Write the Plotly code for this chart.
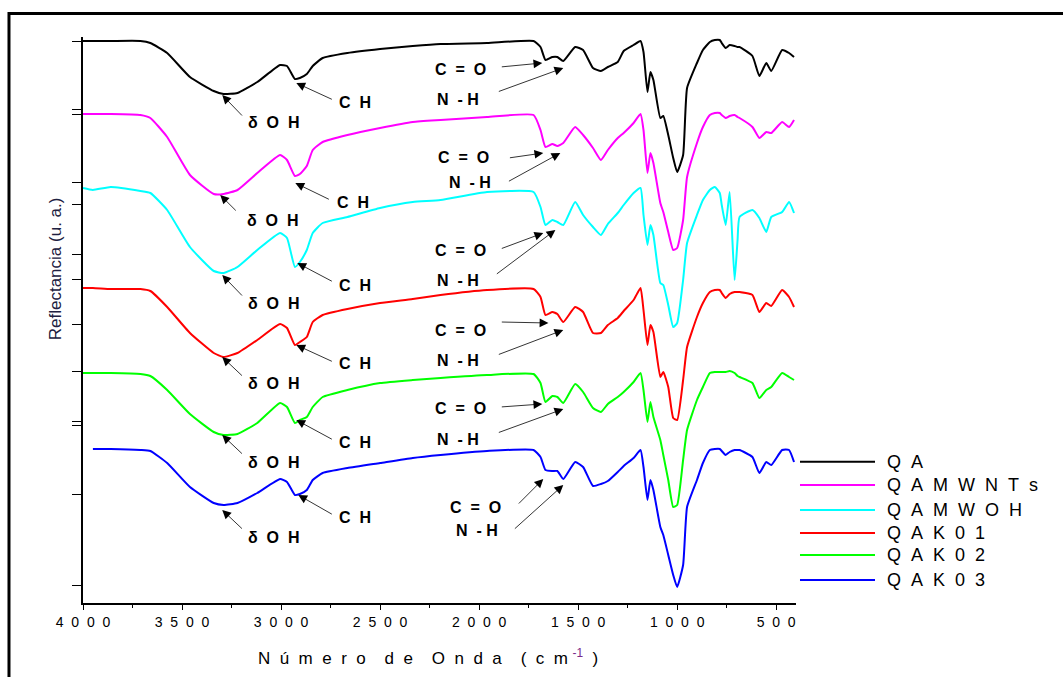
import plotly.graph_objects as go

# FTIR reflectance spectra, stacked with vertical offsets (arbitrary units)
WAVENUMBER = [4000, 3950, 3860, 3710, 3660, 3575, 3460, 3340, 3290, 3220, 3120, 3005, 2970, 2930,
              2905, 2870, 2840, 2790, 2665, 2500, 2335, 2195, 1960, 1725, 1690, 1665, 1630, 1605,
              1575, 1515, 1475, 1425, 1385, 1350, 1300, 1270, 1220, 1185, 1170, 1150, 1135, 1120,
              1085, 1070, 1045, 1020, 1000, 970, 950, 900, 870, 835, 810, 785, 775, 755, 735, 710,
              695, 685, 620, 585, 550, 525, 470, 435, 410]

QA = [562, 562, 562, 562, 560, 550, 526, 512, 509, 510, 521, 538, 537, 524, 525, 529, 537, 545,
      550, 554, 557, 559, 560, 562, 556, 543, 546, 546, 542, 556, 553, 535, 532, 536, 541, 552,
      558, 562, 551, 511, 531, 523, 485, 487, 468, 445, 431, 448, 515, 540, 553, 561, 563, 563,
      560, 555, 558, 557, 556, 556, 547, 527, 540, 532, 553, 550, 546]

QAMWNTS = [489, 489, 489, 488, 485, 466, 428, 409, 409, 413, 430, 448, 443, 427, 429, 437, 453,
           461, 468, 475, 481, 483, 486, 488, 473, 456, 459, 457, 460, 476, 468, 455, 443, 453,
           465, 470, 480, 489, 473, 430, 450, 440, 400, 391, 371, 353, 355, 383, 426, 460, 476,
           488, 490, 490, 488, 485, 487, 488, 486, 485, 476, 465, 471, 470, 481, 476, 483]

QAMWOH = [415, 413, 416, 412, 410, 393, 356, 332, 330, 336, 353, 370, 365, 336, 341, 353, 370,
          380, 386, 395, 401, 403, 411, 411, 396, 378, 383, 381, 378, 401, 388, 376, 368, 379,
          390, 398, 410, 415, 388, 358, 378, 368, 320, 318, 298, 276, 280, 323, 360, 388, 403,
          413, 416, 410, 398, 378, 411, 323, 363, 386, 393, 385, 371, 386, 391, 401, 390]

QAK01 = [315, 315, 314, 314, 312, 296, 270, 250, 246, 250, 263, 279, 275, 258, 261, 266, 281,
         288, 294, 300, 304, 308, 313, 314, 306, 288, 291, 289, 281, 296, 291, 270, 270, 278,
         285, 292, 303, 315, 293, 258, 278, 271, 226, 231, 216, 185, 183, 223, 256, 286, 300,
         311, 313, 313, 310, 305, 309, 311, 311, 311, 308, 291, 300, 297, 313, 306, 296]

QAK02 = [230, 230, 230, 229, 227, 213, 189, 171, 168, 169, 180, 200, 196, 180, 183, 186, 196,
         206, 213, 220, 223, 225, 228, 229, 220, 201, 207, 206, 200, 219, 211, 195, 191, 199,
         206, 211, 221, 230, 213, 181, 201, 186, 163, 148, 123, 96, 98, 143, 173, 203, 216,
         230, 231, 231, 231, 231, 232, 230, 227, 226, 220, 205, 213, 216, 230, 226, 223]

QAK03 = [None, 154, 154, 153, 152, 140, 116, 100, 98, 100, 110, 124, 121, 108, 109, 113, 123,
         130, 135, 140, 145, 148, 152, 153, 146, 133, 132, 132, 124, 141, 136, 117, 119, 122,
         131, 137, 145, 153, 136, 103, 123, 113, 76, 68, 48, 28, 16, 38, 96, 123, 140, 153,
         154, 154, 152, 148, 151, 153, 153, 153, 146, 130, 141, 138, 153, 153, 141]

SERIES_NAMES = ["Q A", "Q A M W N T s", "Q A M W O H", "Q A K 0 1", "Q A K 0 2", "Q A K 0 3"]
SERIES_COLORS = ["#000000", "#ff00ff", "#00ffff", "#ff0000", "#00ff00", "#0000ff"]
SERIES_VALUES = [QA, QAMWNTS, QAMWOH, QAK01, QAK02, QAK03]

X_TICKS = [4000, 3500, 3000, 2500, 2000, 1500, 1000, 500]
X_MINOR = [3750, 3250, 2750, 2250, 1750, 1250, 750]
Y_TICKS = [562, 494, 489, 421, 399, 349, 324, 279, 232, 182, 178, 109, 18]

# band assignments: (text position, arrow tail, arrow tip) per spectrum
OH_TEXT = [(3040, 481), (3044, 383), (3040, 300), (3039, 220), (3039, 141), (3039, 66)]
OH_TAIL = [(3190, 486), (3221, 391), (3190, 306), (3190, 226), (3190, 148), (3190, 73)]
OH_TIP = [(3297, 508), (3307, 408), (3297, 328), (3297, 246), (3297, 168), (3297, 93)]

CH_TEXT = [(2625, 501), (2635, 401), (2625, 318), (2625, 240), (2625, 161), (2625, 86)]
CH_TAIL = [(2736, 503), (2751, 403), (2736, 321), (2736, 241), (2736, 163), (2736, 88)]
CH_TIP = [(2923, 520), (2928, 420), (2918, 340), (2923, 258), (2923, 183), (2913, 108)]

CO_TEXT = [(2094, 534), (2080, 446), (2094, 353), (2094, 273), (2094, 195), (2019, 96)]
CO_TAIL = [(1893, 536), (1852, 445), (1893, 354), (1893, 281), (1893, 196), (1807, 98)]
CO_TIP = [(1681, 540), (1676, 450), (1676, 370), (1650, 280), (1681, 199), (1676, 124)]

NH_TEXT = [(2105, 504), (2044, 421), (2105, 323), (2105, 243), (2105, 164), (2009, 73)]
NH_TAIL = [(1908, 511), (1857, 421), (1918, 328), (1908, 248), (1908, 170), (1827, 73)]
NH_TIP = [(1575, 535), (1590, 450), (1615, 373), (1575, 273), (1575, 194), (1575, 118)]

NB = "\u00a0"
BAND_TEXT = {
    "OH": "δ" + NB * 2 + "O" + NB * 2 + "H",
    "CH": "C" + NB * 2 + "H",
    "CO": "C" + NB * 2 + "=" + NB * 2 + "O",
    "NH": "N" + NB * 2 + "-" + NB + "H",
}
BANDS = [("OH", OH_TEXT, OH_TAIL, OH_TIP), ("CH", CH_TEXT, CH_TAIL, CH_TIP),
         ("CO", CO_TEXT, CO_TAIL, CO_TIP), ("NH", NH_TEXT, NH_TAIL, NH_TIP)]

FONT = "Liberation Sans, Arial, sans-serif"


def spaced(s, gap=2):
    return (NB * gap).join(s.replace(" ", ""))


fig = go.Figure()
for name, color, vals in zip(SERIES_NAMES, SERIES_COLORS, SERIES_VALUES):
    fig.add_trace(go.Scatter(x=WAVENUMBER, y=vals, mode="lines", name=name,
                             line=dict(color=color, width=2, shape="spline", smoothing=0.45),
                             showlegend=False, connectgaps=False))

annotations = []
for key, texts, tails, tips in BANDS:
    for (tx, ty), (ax, ay), (px, py) in zip(texts, tails, tips):
        annotations.append(dict(x=tx, y=ty, xref="x", yref="y", text="<b>" + BAND_TEXT[key] + "</b>",
                                showarrow=False, font=dict(family=FONT, size=16, color="black"),
                                xanchor="center", yanchor="middle"))
        annotations.append(dict(x=px, y=py, xref="x", yref="y", ax=ax, ay=ay, axref="x", ayref="y",
                                text="", showarrow=True, arrowhead=2, arrowsize=2.2,
                                arrowwidth=0.8, arrowcolor="black"))

# legend drawn beside the plot
LEG_Y = [0.2496, 0.2085, 0.1643, 0.1237, 0.0848, 0.0406]
shapes = []
for name, color, ly in zip(SERIES_NAMES, SERIES_COLORS, LEG_Y):
    shapes.append(dict(type="line", xref="paper", yref="paper", x0=1.0056, x1=1.1108, y0=ly, y1=ly,
                       line=dict(color=color, width=2)))
    annotations.append(dict(x=1.1248, y=ly, xref="paper", yref="paper", text=spaced(name),
                            showarrow=False, xanchor="left", yanchor="middle",
                            font=dict(family=FONT, size=18, color="black")))

# outer frame
shapes.append(dict(type="rect", xref="paper", yref="paper", x0=-0.1038, x1=1.6, y0=-0.3, y1=1.0415,
                   line=dict(color="black", width=3), layer="below"))

annotations.append(dict(x=0.484, y=-0.095, xref="paper", yref="paper", showarrow=False,
                        text=spaced("Número") + NB * 4 + spaced("de") + NB * 4 + spaced("Onda")
                        + NB * 4 + "(" + NB * 2 + spaced("cm") + NB
                        + "<sup><span style='color:#7a2a8a'>-1</span></sup>" + NB * 2 + ")",
                        font=dict(family=FONT, size=17, color="black"), xanchor="center",
                        yanchor="middle"))
annotations.append(dict(x=-0.039, y=0.59, xref="paper", yref="paper", showarrow=False,
                        text="Reflectancia (u. a.)", textangle=-90,
                        font=dict(family=FONT, size=17, color="#202040"),
                        xanchor="center", yanchor="middle"))

fig.update_layout(
    width=1063, height=677,
    margin=dict(l=83, r=267, t=37, b=74),
    paper_bgcolor="white", plot_bgcolor="white",
    xaxis=dict(range=[4000, 400], tickvals=X_TICKS, ticktext=[spaced(str(v)) for v in X_TICKS],
               ticks="outside", ticklen=5, tickwidth=1, tickcolor="black",
               showline=True, linecolor="black", linewidth=1.5, showgrid=False, zeroline=False,
               tickfont=dict(family=FONT, size=14, color="black"),
               minor=dict(tickvals=X_MINOR, ticks="outside", ticklen=3, tickcolor="black")),
    yaxis=dict(range=[0, 566], tickvals=Y_TICKS, showticklabels=False, ticks="outside",
               ticklen=9, tickcolor="black", showline=True, linecolor="black", linewidth=1.5,
               showgrid=False, zeroline=False),
    annotations=annotations,
    shapes=shapes,
)

fig.write_html("out.html")
